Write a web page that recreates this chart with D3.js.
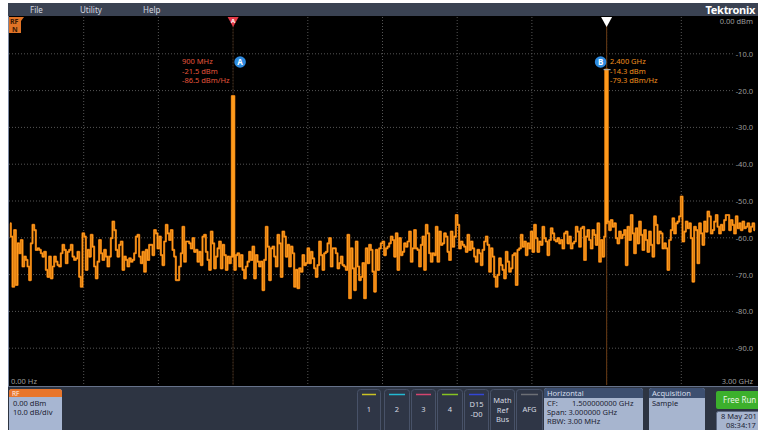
<!DOCTYPE html>
<html><head><meta charset="utf-8">
<script src="https://cdn.jsdelivr.net/npm/d3@7"></script>
<style>
html,body{margin:0;padding:0;background:#fff;}
svg{display:block;font-family:"Noto Sans","Open Sans",sans-serif;}
</style></head>
<body><svg id="c" width="758" height="430"></svg>
<script>
// ---------- data ----------
const spanStartMHz = 0, spanStopMHz = 3000;
const traceStartMHz = 4, traceStopMHz = 2996;
const noiseTrace = [
-56.1,-59.7,-73.3,-57.9,-72.8,-61.5,-64.2,-60.6,-67.8,-65.1,
-66.0,-67.8,-71.5,-61.5,-56.5,-57.9,-63.3,-62.9,-63.3,-64.2,
-65.1,-63.8,-68.7,-70.6,-65.1,-71.0,-67.8,-65.1,-66.5,-67.4,
-67.8,-64.2,-61.9,-63.3,-66.9,-63.8,-63.3,-61.9,-65.1,-66.0,
-65.6,-63.8,-70.6,-73.3,-58.8,-59.7,-68.7,-63.3,-65.1,-59.2,
-62.4,-67.8,-71.0,-66.5,-60.6,-64.2,-66.0,-63.3,-65.1,-67.8,
-65.1,-60.1,-55.6,-57.9,-63.3,-65.1,-61.9,-61.0,-68.7,-65.1,
-66.0,-67.8,-65.6,-66.5,-66.0,-64.2,-59.7,-59.2,-65.1,-66.9,
-63.8,-69.2,-63.3,-66.0,-61.9,-61.9,-64.7,-57.9,-58.8,-62.9,
-59.7,-64.7,-67.4,-61.0,-56.5,-58.8,-60.6,-57.9,-63.3,-65.1,
-71.5,-71.5,-67.8,-64.2,-57.0,-66.5,-61.0,-61.0,
-61.5,-62.9,-60.1,-63.8,-63.3,-66.5,-63.8,-67.4,-59.7,-59.2,
-63.8,-66.0,-68.7,-58.3,-61.5,-68.3,-65.1,-62.9,-61.0,-68.3,
-61.9,-64.7,-68.7,-65.1,-66.9,-65.1,-65.1,-68.7,-64.7,-64.2,
-67.8,-64.7,-68.7,-71.0,-67.8,-66.5,-63.8,-66.0,-62.4,-71.0,
-64.7,-66.5,-67.8,-66.5,-74.2,-66.0,-57.0,-62.4,-71.5,-62.9,
-62.4,-65.1,-67.8,-59.2,-61.5,-70.6,-58.3,-59.7,-65.1,-61.9,
-67.8,-62.4,-64.2,-73.3,-68.7,-73.7,-68.3,-69.2,-64.7,-67.4,
-66.9,-62.9,-66.9,-63.8,-65.6,-68.3,-70.6,-67.4,-61.0,-64.7,
-68.7,-64.2,-63.8,-61.5,-60.1,-67.8,-62.9,-62.9,-64.2,-68.3,
-66.9,-65.1,-67.4,-67.8,-68.7,-59.2,-76.4,-62.9,-68.3,-74.2,
-61.0,-67.8,-71.5,-70.6,-66.9,-76.4,-62.9,-66.9,-61.9,-63.3,
-69.2,
-74.6,-63.3,-68.7,-62.9,-61.5,-61.0,-64.7,-62.9,-62.4,-61.5,
-59.7,-60.6,-65.1,-58.8,-68.7,-60.1,-64.7,-63.8,-61.5,-62.4,
-61.0,-58.3,-66.5,-62.9,-57.9,-62.9,-63.3,-67.8,-61.9,-59.7,
-68.7,-56.5,-58.8,-64.2,-66.5,-64.2,-64.7,-57.0,-66.5,-58.3,
-61.9,-61.5,-58.8,-59.7,-63.8,-66.0,-58.3,-62.4,-59.7,-53.8,
-56.5,-62.9,-61.0,-61.9,-62.4,-63.8,-59.2,-63.3,-61.0,-62.9,
-65.1,-66.5,-63.3,-64.2,-67.4,-63.3,-61.0,-59.7,-61.9,-69.2,
-62.9,-65.1,-70.6,-73.3,-70.1,-65.6,-67.4,-68.7,-71.0,-63.8,
-66.5,-69.2,-68.3,-64.7,-64.2,-72.8,-63.3,-62.9,-59.2,-62.4,
-61.0,-64.7,-61.5,-62.9,-58.3,-63.8,-56.5,-60.1,-63.8,-61.0,
-61.9,-57.0,-60.1,-61.0,-64.7,-60.6,-57.4,-58.8,-60.6,-61.0,
-60.1,
-61.5,-60.6,-62.9,-58.8,-58.3,-61.5,-59.7,-62.9,-61.5,-61.0,
-57.0,-58.3,-62.4,-57.4,-57.0,-66.0,-59.7,-57.9,-60.6,-62.9,
-57.9,-59.2,-61.9,-56.1,-66.5,-60.6,-65.1,-59.7,-56.1,-55.6,
-57.9,-55.2,-57.0,-56.1,-60.1,-61.5,-58.3,-60.1,-59.2,-57.9,
-67.4,-57.0,-60.6,-53.8,-58.8,-64.2,-57.4,-61.5,-55.6,-59.2,
-63.3,-57.9,-60.6,-63.8,-58.3,-61.9,-65.1,-54.2,-56.5,-61.5,
-58.3,-58.8,-62.9,-61.5,-62.9,-68.7,-60.6,-57.9,-54.7,-58.8,
-56.1,-55.6,-54.2,-48.8,-61.0,-58.3,-55.6,-57.4,-56.1,-60.1,
-71.9,-57.0,-57.9,-66.9,-56.1,-58.8,-61.9,-55.6,-58.3,-52.9,
-54.2,-58.8,-57.9,-55.6,-53.8,-57.0,-58.8,-56.5,-57.9,-55.2,
-53.8,-53.8,-57.9,-55.2,-56.5,-58.8,-54.2,-57.4,-56.1,-57.9,
-55.6,-57.4,-57.0,-56.1,-58.3,-57.0,-56.1,-57.9
];
const markerLabels = ["A", "B"];
const markerFreqMHz = [900, 2400];
const markerLevelDbm = [-21.5, -14.3];
const markerDensity = [-86.5, -79.3];
const markerFreqText = ["900 MHz", "2.400 GHz"];
const levelGrid = [-10, -20, -30, -40, -50, -60, -70, -80, -90];
const levelLabels = ["-10.0", "-20.0", "-30.0", "-40.0", "-50.0", "-60.0", "-70.0", "-80.0", "-90.0"];
const freqGrid = [300, 600, 900, 1200, 1500, 1800, 2100, 2400, 2700];
const menuItems = ["File", "Utility", "Help"];
const channelButtons = [["1"], ["2"], ["3"], ["4"], ["D15", "-D0"], ["Math", "Ref", "Bus"], ["AFG"]];
const channelColors = ["#c9c224", "#23b9d2", "#d3456f", "#86c322", "#3346d6", null, "#6c6f75"];
const horizontalLines = ["CF:", "Span: 3.000000 GHz", "RBW: 3.00 MHz"];

// ---------- drawing ----------
const svg = d3.select("#c");
const x = d3.scaleLinear().domain([spanStartMHz, spanStopMHz]).range([9, 756]);
const y = d3.scaleLinear().domain([-100, 0]).range([385, 17]);
const idx = d3.scaleLinear().domain([0, noiseTrace.length - 1]).range([traceStartMHz, traceStopMHz]);

// screen background
svg.append("rect").attr("x", 8).attr("y", 3).attr("width", 750).attr("height", 427).attr("fill", "#2d3442");
// menu bar
svg.append("rect").attr("x", 8).attr("y", 3).attr("width", 750).attr("height", 13).attr("fill", "#3a4252");
const menuX = [30, 80, 143];
svg.selectAll(".menu").data(menuItems).join("text")
  .attr("x", (d, i) => menuX[i]).attr("y", 12.5).attr("fill", "#d4d8e0").attr("font-size", 8).text(d => d);
svg.append("text").attr("x", 755).attr("y", 13.5).attr("text-anchor", "end").attr("fill", "#ffffff")
  .attr("font-size", 11).attr("font-weight", "bold").attr("letter-spacing", -0.3).text("Tektronix");

// plot area
svg.append("rect").attr("x", 8).attr("y", 16).attr("width", 750).attr("height", 370).attr("fill", "#000");
svg.append("line").attr("x1", 8.5).attr("x2", 8.5).attr("y1", 16).attr("y2", 387).attr("stroke", "#7d8aa3");
svg.append("line").attr("x1", 8).attr("x2", 758).attr("y1", 386.5).attr("y2", 386.5).attr("stroke", "#66728a");

// grid
const g = svg.append("g");
g.selectAll(".vg").data(freqGrid).join("line")
  .attr("x1", d => x(d)).attr("x2", d => x(d)).attr("y1", 17).attr("y2", 385)
  .attr("stroke", "#555").attr("stroke-dasharray", "1,2");
g.selectAll(".hg").data(levelGrid).join("line")
  .attr("x1", 9).attr("x2", 733).attr("y1", d => y(d)).attr("y2", d => y(d))
  .attr("stroke", "#555").attr("stroke-dasharray", "1,2");

// right axis labels
g.selectAll(".yl").data(levelGrid).join("text")
  .attr("x", 753).attr("y", d => y(d) + 3).attr("text-anchor", "end")
  .attr("fill", "#9c9c9c").attr("font-size", 7.5).text((d, i) => levelLabels[i]);
g.append("text").attr("x", 753).attr("y", 24).attr("text-anchor", "end").attr("fill", "#9c9c9c").attr("font-size", 7.5).text("0.00 dBm");
g.append("text").attr("x", 11).attr("y", 384).attr("fill", "#9c9c9c").attr("font-size", 7.5).text("0.00 Hz");
g.append("text").attr("x", 753).attr("y", 384).attr("text-anchor", "end").attr("fill", "#9c9c9c").attr("font-size", 7.5).text("3.00 GHz");

// cursor lines
const cursorColors = ["#24160b", "#5a3312"];
svg.selectAll(".cur").data(markerFreqMHz).join("line")
  .attr("x1", d => x(d)).attr("x2", d => x(d)).attr("y1", 24).attr("y2", 385)
  .attr("stroke", (d, i) => cursorColors[i]).attr("stroke-width", 1.2);

// trace
const pts = noiseTrace.map((v, i) => [idx(i), v]);
markerFreqMHz.forEach((f, i) => { pts.push([f - 4, markerLevelDbm[i]], [f + 2, markerLevelDbm[i]]); });
pts.sort((a, b) => a[0] - b[0]);
const line = d3.line().curve(d3.curveStep).x(d => x(d[0])).y(d => y(d[1]));
svg.append("path").attr("d", line(pts)).attr("fill", "none").attr("stroke", "#b85f08").attr("stroke-width", 2.2).attr("stroke-linejoin", "round");
svg.append("path").attr("d", line(pts)).attr("fill", "none").attr("stroke", "#ff9a1c").attr("stroke-width", 1.2).attr("stroke-linejoin", "round");

// peak tick for active marker B
svg.append("line").attr("x1", x(markerFreqMHz[1]) - 3).attr("x2", x(markerFreqMHz[1]) + 4)
  .attr("y1", y(markerLevelDbm[1])).attr("y2", y(markerLevelDbm[1])).attr("stroke", "#a8a8a8").attr("stroke-width", 1.2);

// top triangles
const triFill = ["#e23a48", "#ffffff"];
svg.selectAll(".tri").data(markerFreqMHz).join("path")
  .attr("d", d => `M${x(d) - 5.5},17 L${x(d) + 5.5},17 L${x(d)},27 Z`).attr("fill", (d, i) => triFill[i]);
svg.append("text").attr("x", x(markerFreqMHz[0])).attr("y", 22.5).attr("text-anchor", "middle")
  .attr("fill", "#fff").attr("font-size", 6).attr("font-weight", "bold").text(markerLabels[0]);

// marker circles
const circX = [x(markerFreqMHz[0]) + 7, x(markerFreqMHz[1]) - 6];
svg.selectAll(".mc").data(markerLabels).join("circle")
  .attr("cx", (d, i) => circX[i]).attr("cy", 62).attr("r", 5.8).attr("fill", "#2e8be0");
svg.selectAll(".mt").data(markerLabels).join("text")
  .attr("x", (d, i) => circX[i]).attr("y", 65).attr("text-anchor", "middle")
  .attr("fill", "#fff").attr("font-size", 8).attr("font-weight", "bold").text(d => d);

// readouts
const readX = [182, 610];
const readColor = ["#e4553c", "#f0901f"];
markerLabels.forEach((m, i) => {
  const lines = [markerFreqText[i], markerLevelDbm[i].toFixed(1) + " dBm", markerDensity[i].toFixed(1) + " dBm/Hz"];
  svg.selectAll(".rd" + i).data(lines).join("text")
    .attr("x", readX[i]).attr("y", (d, j) => 64 + j * 9.7)
    .attr("fill", readColor[i]).attr("font-size", 7.5).text(d => d);
});

// RF N badge
svg.append("path").attr("d", "M9,17 L21,17 L24,17 L21,21 L21,33 L9,33 Z").attr("fill", "#e07326");
svg.append("text").attr("x", 10).attr("y", 24).attr("fill", "#3a1a05").attr("font-size", 7).attr("font-weight", "bold").text("RF");
svg.append("text").attr("x", 12).attr("y", 32).attr("fill", "#3a1a05").attr("font-size", 7).attr("font-weight", "bold").text("N");

// ---------- bottom panel ----------
svg.append("rect").attr("x", 9).attr("y", 389).attr("width", 53).attr("height", 44).attr("rx", 3).attr("fill", "#a7b6d2");
svg.append("path").attr("d", "M9,397 L9,392 Q9,389 12,389 L59,389 Q62,389 62,392 L62,397 Z").attr("fill", "#e8752b");
svg.append("text").attr("x", 12).attr("y", 395.5).attr("fill", "#fff3e8").attr("font-size", 6.5).text("RF");
svg.append("text").attr("x", 13).attr("y", 405.5).attr("fill", "#1c2333").attr("font-size", 7.5).text("0.00 dBm");
svg.append("text").attr("x", 13).attr("y", 414.5).attr("fill", "#1c2333").attr("font-size", 7.5).text("10.0 dB/div");

// channel buttons
const btnX = [357, 384, 411, 437, 464, 490, 516];
const btnW = [23, 25, 24, 25, 24, 24, 26];
const btn = svg.selectAll(".btn").data(channelButtons).join("g");
btn.append("rect").attr("x", (d, i) => btnX[i] + 0.5).attr("y", 389.5).attr("width", (d, i) => btnW[i]).attr("height", 45)
  .attr("rx", 3).attr("fill", "#2f3646").attr("stroke", "#485268");
btn.each(function (d, i) {
  const sel = d3.select(this);
  if (channelColors[i]) {
    sel.append("line").attr("x1", btnX[i] + 5).attr("x2", btnX[i] + btnW[i] - 4)
      .attr("y1", 394.5).attr("y2", 394.5).attr("stroke-width", 1.5).attr("stroke", channelColors[i]);
  }
  const cx = btnX[i] + btnW[i] / 2 + 0.5;
  const n = d.length;
  const startY = n === 1 ? 412 : (n === 2 ? 407 : 403);
  sel.selectAll("text").data(d).join("text")
    .attr("x", cx).attr("y", (t, j) => startY + j * 9.7).attr("text-anchor", "middle")
    .attr("fill", "#d6dae2").attr("font-size", 7.5).text(t => t);
});

function panel(px, pw, title) {
  svg.append("rect").attr("x", px).attr("y", 388).attr("width", pw).attr("height", 46).attr("rx", 3).attr("fill", "#a7b5cf");
  svg.append("path").attr("d", `M${px},398 L${px},391 Q${px},388 ${px + 3},388 L${px + pw - 3},388 Q${px + pw},388 ${px + pw},391 L${px + pw},398 Z`).attr("fill", "#3d4f70");
  svg.append("text").attr("x", px + 3).attr("y", 396).attr("fill", "#d8dfec").attr("font-size", 7.5).text(title);
}
panel(544, 99, "Horizontal");
svg.selectAll(".hz").data(horizontalLines).join("text")
  .attr("x", 547).attr("y", (d, i) => 405.5 + i * 9).attr("fill", "#1c2333").attr("font-size", 7.5).text(d => d);
svg.append("text").attr("x", 572).attr("y", 405.5).attr("fill", "#1c2333").attr("font-size", 7.5).text("1.500000000 GHz");
panel(649, 56, "Acquisition");
svg.append("text").attr("x", 652).attr("y", 405.5).attr("fill", "#1c2333").attr("font-size", 7.5).text("Sample");

svg.append("rect").attr("x", 716).attr("y", 391).attr("width", 46).attr("height", 18).attr("rx", 2).attr("fill", "#3cb02c");
svg.append("text").attr("x", 723).attr("y", 403).attr("fill", "#eaf7e6").attr("font-size", 8).text("Free Run");
svg.append("rect").attr("x", 716.5).attr("y", 411.5).attr("width", 46).attr("height", 22).attr("rx", 2).attr("fill", "#a7b5cf").attr("stroke", "#5b6780");
svg.append("text").attr("x", 721).attr("y", 419).attr("fill", "#1c2333").attr("font-size", 7.5).text("8 May 201");
svg.append("text").attr("x", 726).attr("y", 428).attr("fill", "#1c2333").attr("font-size", 7.5).text("08:34:17");
</script>
</body></html>
